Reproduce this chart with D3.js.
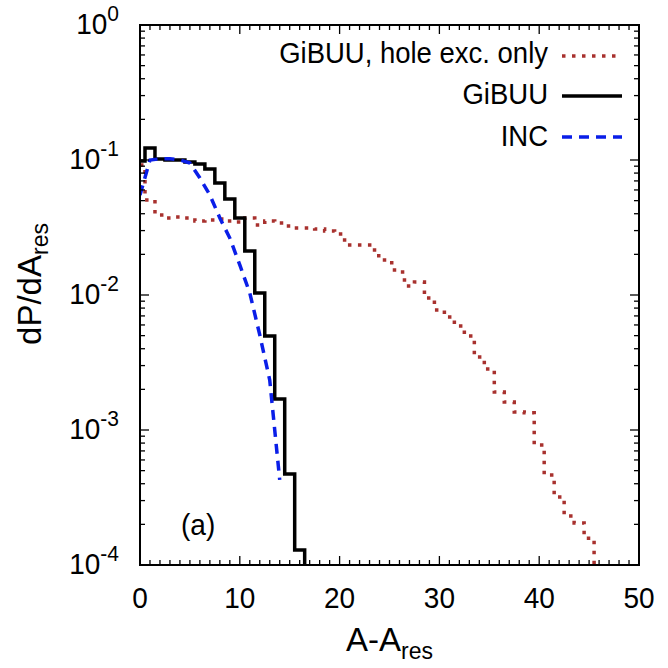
<!DOCTYPE html>
<html>
<head>
<meta charset="utf-8">
<script src="https://cdn.jsdelivr.net/npm/d3@7"></script>
<style>
  body { margin: 0; background: #fff; }
  svg { display: block; }
  text { font-family: "Liberation Sans", Arial, Helvetica, sans-serif; fill: #000; }
</style>
</head>
<body>
<svg id="chart" width="668" height="668"></svg>
<script>
// GiBUU full calculation: histogram, one bin per unit of A - A_res
const gibuuBins = [0, 1, 2, 3, 4, 5, 6, 7, 8, 9, 10, 11, 12, 13, 14, 15, 16];
const gibuuValues = [0.0984, 0.1227, 0.1017, 0.100, 0.100, 0.0967, 0.0934, 0.0858, 0.0676,
  0.0514, 0.0372, 0.0212, 0.01035, 0.00497, 0.00170, 0.000472, 0.000129];

// GiBUU with hole excitation only
const holeBins = d3.range(0, 46);
const holeValues = [0.0918, 0.0506, 0.0391, 0.0372, 0.0378, 0.0372, 0.0353, 0.0360, 0.0366,
  0.0353, 0.0347, 0.0372, 0.0330, 0.0353, 0.0341, 0.0324, 0.0313, 0.0313, 0.0308, 0.0298,
  0.0283, 0.0235, 0.0235, 0.0235, 0.0195, 0.0173, 0.0148, 0.01166, 0.01247, 0.00950,
  0.00774, 0.00687, 0.00589, 0.00497, 0.00347, 0.00283, 0.00191, 0.00161, 0.00136,
  0.00134, 0.000774, 0.000464, 0.000319, 0.000231, 0.000205, 0.000158];

// INC calculation, drawn as a line through its points
const incA = [0, 1, 2, 3, 4, 5, 6, 7, 8, 9, 10, 11, 12, 13, 14];
const incValues = [0.055, 0.100, 0.102, 0.102, 0.100, 0.095, 0.0736, 0.055, 0.0372,
  0.0264, 0.0167, 0.01035, 0.00506, 0.00234, 0.000427];

const xTickValues = [0, 10, 20, 30, 40, 50];
const yTickExponents = [0, -1, -2, -3, -4];

const legendLabels = ["GiBUU, hole exc. only", "GiBUU", "INC"];

const W = 668, H = 668;
const margin = { left: 140, right: 29, top: 25, bottom: 103 };
const plotW = W - margin.left - margin.right;
const plotH = H - margin.top - margin.bottom;

const svg = d3.select("#chart");

const x = d3.scaleLinear().domain([0, 50]).range([margin.left, margin.left + plotW]);
const y = d3.scaleLog().domain([1e-4, 1]).range([margin.top + plotH, margin.top]);

const colors = { hole: "#a8312e", gibuu: "#000000", inc: "#0a1ee8" };

svg.append("defs").append("clipPath").attr("id", "plotClip")
  .append("rect")
  .attr("x", margin.left).attr("y", margin.top)
  .attr("width", plotW).attr("height", plotH);

// Step outline of a histogram with unit-width bins centred on the integers
function stepPoints(bins, values) {
  const pts = bins.map((b, i) => [Math.max(0, b - 0.5), values[i]]);
  const last = bins[bins.length - 1] + 0.5;
  pts.push([last, values[values.length - 1]]);
  pts.push([last, 1e-4]);
  return pts;
}

const stepLine = d3.line()
  .x(d => x(d[0]))
  .y(d => y(d[1]))
  .curve(d3.curveStepAfter);

const plainLine = d3.line()
  .x(d => x(d[0]))
  .y(d => y(d[1]));

const plot = svg.append("g").attr("clip-path", "url(#plotClip)");

plot.append("path")
  .attr("d", stepLine(stepPoints(holeBins, holeValues)))
  .attr("fill", "none")
  .attr("stroke", colors.hole)
  .attr("stroke-width", 3.5)
  .attr("stroke-dasharray", "3.5,6.5");

plot.append("path")
  .attr("d", stepLine(stepPoints(gibuuBins, gibuuValues)))
  .attr("fill", "none")
  .attr("stroke", colors.gibuu)
  .attr("stroke-width", 3.5)
  .attr("stroke-linejoin", "miter");

plot.append("path")
  .attr("d", plainLine(incA.map((a, i) => [a, incValues[i]])))
  .attr("fill", "none")
  .attr("stroke", colors.inc)
  .attr("stroke-width", 3.5)
  .attr("stroke-dasharray", "10,7");

// Frame
svg.append("rect")
  .attr("x", margin.left).attr("y", margin.top)
  .attr("width", plotW).attr("height", plotH)
  .attr("fill", "none").attr("stroke", "#000").attr("stroke-width", 2);

// Ticks pointing inwards on all four sides
const majorLen = 9, minorLen = 5;
const ticks = svg.append("g").attr("stroke", "#000").attr("stroke-width", 1.3);

d3.range(0, 51, 1).forEach(v => {
  const len = v % 10 === 0 ? majorLen : minorLen;
  const px = x(v);
  ticks.append("line").attr("x1", px).attr("x2", px)
    .attr("y1", y(1e-4)).attr("y2", y(1e-4) - len);
  ticks.append("line").attr("x1", px).attr("x2", px)
    .attr("y1", y(1)).attr("y2", y(1) + len);
});

yTickExponents.forEach(e => {
  for (let m = 1; m <= 9; m++) {
    const v = m * Math.pow(10, e);
    if (v < 1e-4 || v > 1) continue;
    const len = m === 1 ? majorLen : minorLen;
    const py = y(v);
    ticks.append("line").attr("x1", x(0)).attr("x2", x(0) + len)
      .attr("y1", py).attr("y2", py);
    ticks.append("line").attr("x1", x(50)).attr("x2", x(50) - len)
      .attr("y1", py).attr("y2", py);
  }
});

// Text placed at (px, py), optionally drawn a little taller than wide
function tallText(parent, px, py, size, anchor, sy = 1.06) {
  return parent.append("text")
    .attr("transform", `translate(${px},${py}) scale(1,${sy})`)
    .attr("text-anchor", anchor)
    .attr("font-size", size);
}

// Tick labels
const xLabels = svg.append("g");
xTickValues.forEach(v => {
  tallText(xLabels, x(v), y(1e-4) + 43, 28, "middle").text(v);
});

const yLabels = svg.append("g");
yTickExponents.forEach(e => {
  const t = tallText(yLabels, margin.left - 21, y(Math.pow(10, e)) + 9, 28, "end");
  t.append("tspan").text("10");
  t.append("tspan").attr("dy", -12).attr("font-size", 21).text(e);
});

// Axis titles
const xTitle = tallText(svg, x(25), 651, 33, "middle", 1.0);
xTitle.append("tspan").text("A-A");
xTitle.append("tspan").attr("dy", 8).attr("font-size", 23).text("res");

const yTitle = svg.append("text")
  .attr("transform", `translate(41, 284) rotate(-90)`)
  .attr("text-anchor", "middle")
  .attr("font-size", 33);
yTitle.append("tspan").text("dP/dA");
yTitle.append("tspan").attr("dy", 7).attr("font-size", 23).text("res");

// Panel label
tallText(svg, 181, 535, 28, "start").text("(a)");

// Legend
const legendRows = [
  { label: legendLabels[0], color: colors.hole, dash: "3.5,6.5", ly: 56, ty: 63 },
  { label: legendLabels[1], color: colors.gibuu, dash: null, ly: 96, ty: 104 },
  { label: legendLabels[2], color: colors.inc, dash: "10,7", ly: 137, ty: 146 }
];
const legend = svg.append("g");
legendRows.forEach(r => {
  tallText(legend, 548, r.ty, 27.5, "end", 1.1).text(r.label);
  legend.append("line")
    .attr("x1", 562).attr("x2", 622)
    .attr("y1", r.ly).attr("y2", r.ly)
    .attr("stroke", r.color)
    .attr("stroke-width", 3.5)
    .attr("stroke-dasharray", r.dash);
});
</script>
</body>
</html>
